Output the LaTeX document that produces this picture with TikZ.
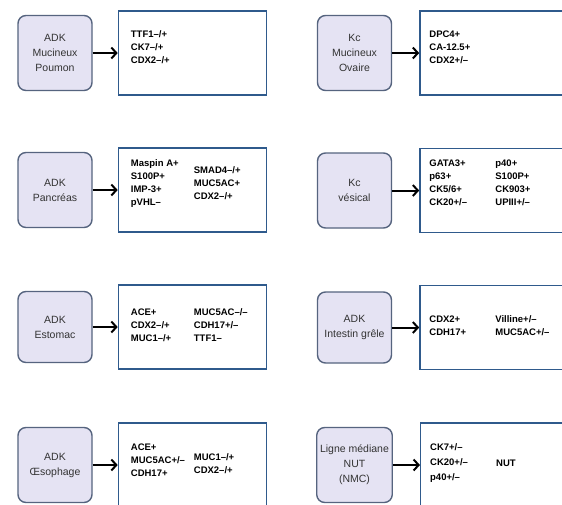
\documentclass[tikz,border=0pt]{standalone}
\usepackage{fontspec}
\setmainfont{Liberation Sans}
\usetikzlibrary{shapes,arrows,arrows.meta}
\usetikzlibrary{positioning}
\definecolor{fg}{rgb}{0,0,0}
\definecolor{lfill}{HTML}{E5E3F3}
\definecolor{ldraw}{HTML}{56647F}
\definecolor{rdraw}{HTML}{2F5A8C}
\definecolor{ltext}{HTML}{333333}
\tikzstyle{origin}=[draw=ldraw, fill=lfill, line width=1.4pt, rounded corners=8pt,
minimum width=74pt, minimum height=75pt, align=center, text=ltext,
font=\fontsize{10.5}{15}\selectfont]
\tikzstyle{markers}=[draw=rdraw, fill=white, line width=1.4pt, minimum width=148pt,
minimum height=84pt]
\tikzstyle{lst}=[inner sep=0pt, align=left, text=fg,
font=\fontsize{9.5}{13}\selectfont\bfseries]
\tikzstyle{myarrow}=[-{Straight Barb[length=5pt, width=11pt, line width=2pt]}, line width=2pt]

\begin{document}
\begin{tikzpicture}[x=1pt, y=-1pt, node distance=25pt]

    \clip (0,0) rectangle (562,504);
    \fill[white] (0,0) rectangle (562,504);

    % colonne gauche
    \node[origin] (poumon) at (55,53) {ADK\\Mucineux\\Poumon};
    \node[markers, right=of poumon] (mpoumon) {};
    \node[lst, right=13pt of mpoumon.west, yshift=6pt] (poumonA) {TTF1–/+\\CK7–/+\\CDX2–/+};
    \draw[myarrow] (poumon) -- (mpoumon) ;

    \node[origin] (pancreas) at (55,190) {ADK\\Pancréas};
    \node[markers, right=of pancreas] (mpancreas) {};
    \node[lst, right=13pt of mpancreas.west, yshift=6.5pt] (pancreasA) {Maspin A+\\S100P+\\IMP-3+\\pVHL–};
    \node[lst, right=63pt of pancreasA.west] (pancreasB) {SMAD4–/+\\MUC5AC+\\CDX2–/+};
    \draw[myarrow] (pancreas) -- (mpancreas) ;

    \node[origin, minimum height=71pt] (estomac) at (55,327) {ADK\\Estomac};
    \node[markers, right=of estomac] (mestomac) {};
    \node[lst, right=13pt of mestomac.west, yshift=1.5pt] (estomacA) {ACE+\\CDX2–/+\\MUC1–/+};
    \node[lst, right=63pt of estomacA.west] (estomacB) {MUC5AC–/–\\CDH17+/–\\TTF1–};
    \draw[myarrow] (estomac) -- (mestomac) ;

    \node[origin] (oeso) at (55,465) {ADK\\Œsophage};
    \node[markers, right=of oeso] (moeso) {};
    \node[lst, right=13pt of moeso.west, yshift=5pt] (oesoA) {ACE+\\MUC5AC+/–\\CDH17+};
    \node[lst, right=63pt of oesoA.west, yshift=-4pt] (oesoB) {MUC1–/+\\CDX2–/+};
    \draw[myarrow] (oeso) -- (moeso) ;

    % colonne droite
    \node[origin] (ovaire) at (354.5,53) {Kc\\Mucineux\\Ovaire};
    \node[markers, right=27pt of ovaire] (movaire) {};
    \node[lst, right=10pt of movaire.west, yshift=6pt] (ovaireA) {DPC4+\\CA-12.5+\\CDX2+/–};
    \draw[myarrow] (ovaire) -- (movaire) ;

    \node[origin] (vessie) at (354.5,190.5) {Kc\\vésical};
    \node[markers, right=27pt of vessie] (mvessie) {};
    \node[lst, right=10pt of mvessie.west, yshift=8pt] (vessieA) {GATA3+\\p63+\\CK5/6+\\CK20+/–};
    \node[lst, right=66pt of vessieA.west] (vessieB) {p40+\\S100P+\\CK903+\\UPIII+/–};
    \draw[myarrow] (vessie) -- (mvessie) ;

    \node[origin, minimum height=71pt] (grele) at (354.5,327.5) {ADK\\Intestin grêle};
    \node[markers, right=27pt of grele] (mgrele) {};
    \node[lst, right=10pt of mgrele.west, yshift=1.5pt] (greleA) {CDX2+\\CDH17+};
    \node[lst, right=66pt of greleA.west] (greleB) {Villine+/–\\MUC5AC+/–};
    \draw[myarrow] (grele) -- (mgrele) ;

    \node[origin] (nut) at (354.5,465) {Ligne médiane\\NUT\\(NMC)};
    \node[markers, right=27pt of nut] (mnut) {};
    \node[lst, right=10pt of mnut.west, yshift=2pt, font=\fontsize{9.5}{15}\selectfont\bfseries] (nutA) {CK7+/–\\CK20+/–\\p40+/–};
    \node[lst, right=66pt of nutA.west] (nutB) {NUT};
    \draw[myarrow] (nut) -- (mnut) ;

\end{tikzpicture}
\end{document}
